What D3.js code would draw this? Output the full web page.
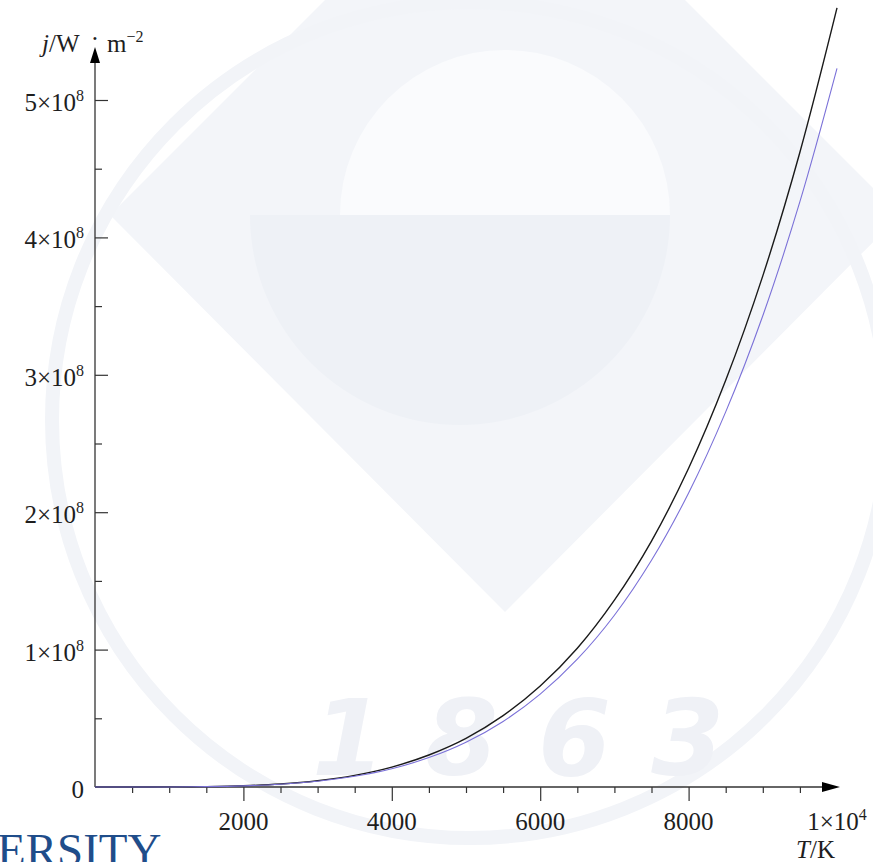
<!DOCTYPE html>
<html>
<head>
<meta charset="utf-8">
<script src="https://cdn.jsdelivr.net/npm/d3@7"></script>
<style>
  html, body { margin: 0; padding: 0; background: #fff; }
  svg { display: block; }
  text { font-family: "Liberation Serif", "DejaVu Serif", serif; fill: #1e1e1e; }
</style>
</head>
<body>
<svg id="chart" width="873" height="862"></svg>
<script>
// temperatures (K)
const temps = [0, 500, 1000, 1500, 2000, 2500, 3000, 3500, 4000, 4500, 5000,
  5500, 6000, 6500, 7000, 7500, 8000, 8500, 9000, 9500, 10000]
// black curve, j (W·m^-2)
const jBlack = [0, 3.5e3, 5.7e4, 2.9e5, 9.1e5, 2.2e6, 4.6e6, 8.5e6, 1.45e7, 2.33e7, 3.54e7,
  5.19e7, 7.35e7, 1.01e8, 1.36e8, 1.79e8, 2.32e8, 2.96e8, 3.72e8, 4.62e8, 5.67e8]
// blue curve, j (W·m^-2)
const jBlue = [0, 3.3e3, 5.2e4, 2.6e5, 8.3e5, 2.0e6, 4.2e6, 7.8e6, 1.33e7, 2.14e7, 3.26e7,
  4.77e7, 6.76e7, 9.3e7, 1.25e8, 1.65e8, 2.14e8, 2.73e8, 3.43e8, 4.26e8, 5.23e8]
// ticks
const xMajor = [2000, 4000, 6000, 8000, 10000]
const xMajorLabels = [['2000'], ['4000'], ['6000'], ['8000'], ['1×10', '4']]
const xMinor = d3.range(500, 10000, 500).filter(v => v % 2000 !== 0)
const yMajor = [0, 1e8, 2e8, 3e8, 4e8, 5e8]
const yMajorLabels = [['0'], ['1×10', '8'], ['2×10', '8'], ['3×10', '8'], ['4×10', '8'], ['5×10', '8']]
const yMinor = [0.5e8, 1.5e8, 2.5e8, 3.5e8, 4.5e8]

const svg = d3.select('#chart')
const axisColor = '#333'

const x = d3.scaleLinear().domain([0, 10000]).range([95, 837])
const y = d3.scaleLinear().domain([0, 5e8]).range([787, 100])

// faint watermark in the background
const wm = svg.append('g').attr('class', 'watermark')
wm.append('polygon')
  .attr('points', '110,215 505,-180 900,215 505,612')
  .attr('fill', '#f3f5f9')
wm.append('path')
  .attr('d', d3.arc()({innerRadius: 0, outerRadius: 210, startAngle: Math.PI / 2, endAngle: Math.PI * 1.5}))
  .attr('transform', 'translate(460,215)')
  .attr('fill', '#eef1f6')
wm.append('path')
  .attr('d', d3.arc()({innerRadius: 0, outerRadius: 165, startAngle: -Math.PI / 2, endAngle: Math.PI / 2}))
  .attr('transform', 'translate(505,215)')
  .attr('fill', '#fafbfd')
wm.append('circle')
  .attr('cx', 470).attr('cy', 420).attr('r', 418)
  .attr('fill', 'none')
  .attr('stroke', '#f2f4f8')
  .attr('stroke-width', 14)
wm.append('text')
  .attr('x', 312).attr('y', 775)
  .style('font-family', '"DejaVu Sans", sans-serif')
  .style('font-weight', 'bold')
  .style('font-style', 'italic')
  .attr('font-size', 105)
  .attr('letter-spacing', 40)
  .style('fill', '#eff1f6')
  .text('1863')
wm.append('text')
  .attr('x', -3).attr('y', 866)
  .attr('font-size', 47)
  .style('fill', '#1f4d8a')
  .text('ERSITY')

// label with a superscript part
function supLabel(sel, parts, supSize) {
  sel.text(null)
  sel.append('tspan').text(parts[0])
  if (parts[1]) {
    sel.append('tspan')
      .attr('font-size', supSize)
      .attr('dy', -10)
      .text(parts[1])
  }
}

// axes lines + arrow heads
const g = svg.append('g')
g.append('line')
  .attr('x1', x(0)).attr('y1', y(0))
  .attr('x2', 826).attr('y2', y(0))
  .attr('stroke', axisColor).attr('stroke-width', 1.3)
g.append('path')
  .attr('d', `M840,${y(0)} L822,${y(0) - 5} L822,${y(0) + 5} Z`)
  .attr('fill', '#000')
g.append('line')
  .attr('x1', x(0)).attr('y1', y(0))
  .attr('x2', x(0)).attr('y2', 60)
  .attr('stroke', axisColor).attr('stroke-width', 1.3)
g.append('path')
  .attr('d', `M${x(0)},47 L${x(0) - 5},63 L${x(0) + 5},63 Z`)
  .attr('fill', '#000')

// x ticks
const xAxisMinor = g.append('g')
  .attr('transform', `translate(0,${y(0)})`)
  .call(d3.axisBottom(x).tickValues(xMinor).tickSize(6).tickSizeOuter(0).tickFormat(''))
const xAxisMajor = g.append('g')
  .attr('transform', `translate(0,${y(0)})`)
  .call(d3.axisBottom(x).tickValues(xMajor.slice(0, 4)).tickSize(14).tickSizeOuter(0).tickFormat(''))
;[xAxisMinor, xAxisMajor].forEach(a => {
  a.select('.domain').remove()
  a.selectAll('line').attr('stroke', axisColor).attr('stroke-width', 1.2)
})
g.selectAll('.xlabel')
  .data(xMajor)
  .join('text')
  .attr('class', 'xlabel')
  .attr('x', d => x(d))
  .attr('y', 830)
  .attr('text-anchor', 'middle')
  .attr('font-size', 25)
  .each(function(d, i) { supLabel(d3.select(this), xMajorLabels[i], 16) })

// y ticks
const yAxisMinor = g.append('g')
  .attr('transform', `translate(${x(0)},0)`)
  .call(d3.axisRight(y).tickValues(yMinor).tickSize(7).tickSizeOuter(0).tickFormat(''))
const yAxisMajor = g.append('g')
  .attr('transform', `translate(${x(0)},0)`)
  .call(d3.axisRight(y).tickValues(yMajor.slice(1)).tickSize(13).tickSizeOuter(0).tickFormat(''))
;[yAxisMinor, yAxisMajor].forEach(a => {
  a.select('.domain').remove()
  a.selectAll('line').attr('stroke', axisColor).attr('stroke-width', 1.2)
})
g.selectAll('.ylabel')
  .data(yMajor)
  .join('text')
  .attr('class', 'ylabel')
  .attr('x', 84)
  .attr('y', d => y(d) + 11)
  .attr('text-anchor', 'end')
  .attr('font-size', 25)
  .each(function(d, i) { supLabel(d3.select(this), yMajorLabels[i], 16) })

// axis titles
const yTitle = g.append('text').attr('x', 42).attr('y', 52).attr('font-size', 25)
yTitle.append('tspan').attr('font-style', 'italic').text('j')
yTitle.append('tspan').text('/W')
g.append('text').attr('x', 95).attr('y', 47).attr('text-anchor', 'middle')
  .attr('font-size', 25).text('·')
const unit = g.append('text').attr('x', 107).attr('y', 52).attr('font-size', 25)
unit.append('tspan').text('m')
unit.append('tspan').attr('font-size', 16).attr('dy', -10).text('−2')

const xTitle = g.append('text').attr('x', 835).attr('y', 858)
  .attr('text-anchor', 'end').attr('font-size', 25)
xTitle.append('tspan').attr('font-style', 'italic').text('T')
xTitle.append('tspan').text('/K')

// curves
const line = vals => d3.line()
  .x((d, i) => x(temps[i]))
  .y(d => y(d))
  .curve(d3.curveCatmullRom)(vals)

svg.append('path')
  .attr('d', line(jBlack))
  .attr('fill', 'none')
  .attr('stroke', '#1a1a1a')
  .attr('stroke-width', 1.4)
svg.append('path')
  .attr('d', line(jBlue))
  .attr('fill', 'none')
  .attr('stroke', '#7b71d8')
  .attr('stroke-width', 1.1)
</script>
</body>
</html>
